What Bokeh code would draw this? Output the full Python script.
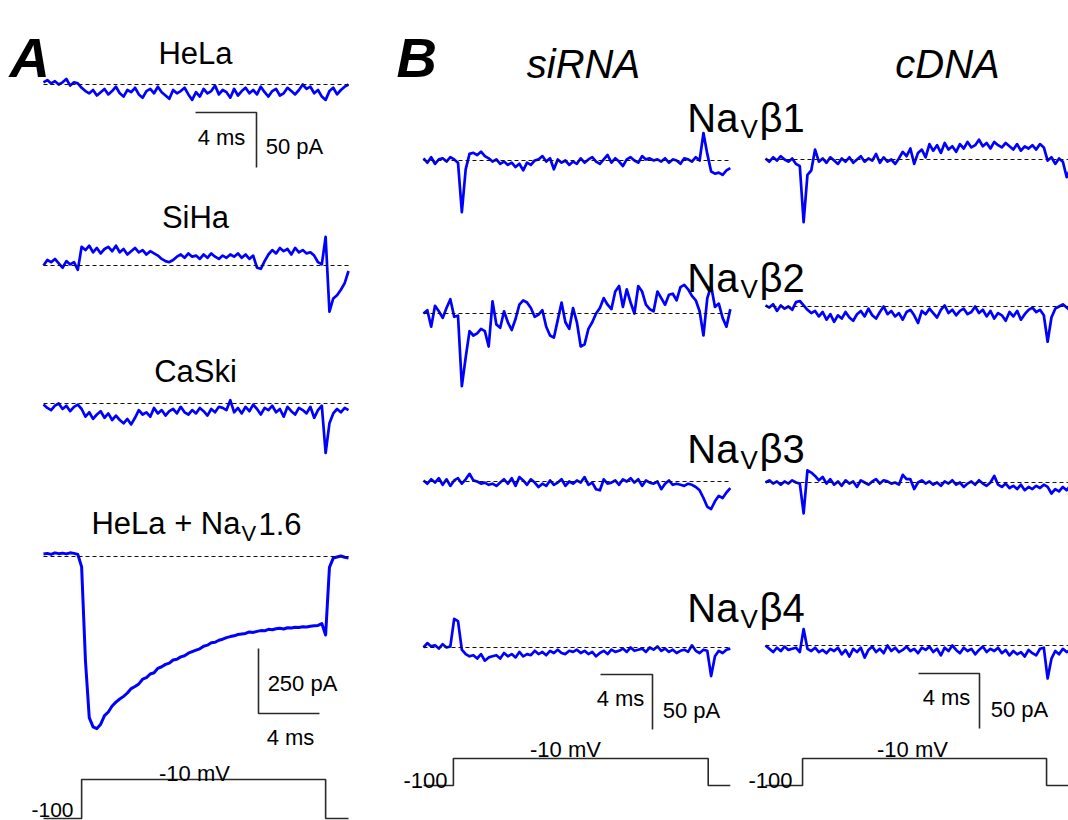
import numpy as np
from bokeh.plotting import figure
from bokeh.models import Range1d
from bokeh.core.properties import value
from bokeh.embed import file_html
from bokeh.resources import INLINE

# ---------------- data: currents in pA, sampled uniformly over each sweep ----------------
hela = [2, 4, 1, 3, 0, 2, 5, -1, 2, 1,
        -3, -6, -8, -5, -10, -7, -4, -9, -6, -2,
        -8, -11, -5, -7, -3, -9, -12, -6, -4, -8,
        -2, -7, -10, -13, -5, -8, -6, -3, -9, -14,
        -7, -11, -4, -8, -6, -1, -9, -5, -7, -12,
        -4, -10, -6, -3, -8, -5, -9, -2, -7, -11,
        -6, -4, -10, -8, -3, -6, -9, -5, 0, -4,
        -2, -8, -5, -11, -14, -6, -3, -9, -5, -2,
        0]
siha = [0, 5, 3, 6, 2, -2, 4, 1, 3, -4,
        17, 14, 18, 12, 16, 11, 15, 17, 13, 18,
        12, 15, 10, 13, 16, 12, 14, 10, 13, 11,
        9, 6, 4, 3, 5, 8, 10, 7, 11, 8,
        9, 6, 10, 7, 11, 8, 6, 9, 7, 10,
        8, 11, 7, 10, 6, 9, -2, -3, 4, 10,
        14, 11, 16, 13, 15, 10, 16, 12, 14, 11,
        12, 9, 3, 1, 26, -42, -30, -27, -22, -16,
        -5]
caski = [-1, -4, -6, -2, 0, -5, -2, -7, -3, -1,
         -5, -12, -8, -14, -10, -7, -13, -9, -15, -11,
         -15, -18, -14, -19, -13, -6, -10, -8, -12, -4,
         -9, -6, -11, -7, -5, -9, -3, -8, -10, -6,
         -9, -4, -7, -11, -5, -8, -3, -4, -6, 3,
         -8, -4, -9, -3, -7, -1, -5, -10, -4, -6,
         -2, -8, -5, -12, -3, -7, -10, -4, -6, -9,
         -3, -13, -6, -2, -45, -18, -9, -5, -8, -4,
         -6]
hela_nav16 = [10, 12, 8, 14, 11, 13, 10, 14, 12, 8,
              -40, -400, -620, -655, -662, -645, -612, -598, -575, -560,
              -548, -538, -525, -508, -500, -490, -472, -466, -452, -447,
              -430, -424, -415, -410, -398, -395, -386, -382, -372, -366,
              -360, -355, -345, -341, -332, -330, -322, -318, -312, -308,
              -305, -300, -298, -296, -290, -292, -288, -285, -286, -280,
              -282, -278, -276, -279, -274, -275, -272, -273, -270, -271,
              -268, -266, -265, -258, -302, -42, -6, -2, 2, -3,
              -6]
sirna_b1 = [2, -2, 3, -3, 1, 2, -1, 3, 1, -2,
            -47, -8, 6, 7, 5, 8, 4, 2, -1, 1,
            -3, -1, -4, -2, -6, -3, -9, -2, -4, 0,
            1, 4, -1, 2, -8, 1, -2, 0, -4, -1,
            -3, 2, -2, 1, 3, -1, -3, 1, 5, -2,
            2, -1, -5, 1, 3, 0, -2, 4, 1, 2,
            0, 1, -1, 2, -2, 1, 0, -3, 2, 1,
            -1, 3, 0, 25, 6, -10, -12, -11, -13, -9,
            -7]
cdna_b1 = [1, -2, 2, -1, 3, 0, -2, 1, -4, -6,
           -57, -14, -10, 9, -2, 1, -3, 2, -1, -4,
           1, -2, 2, -3, 0, 3, -2, 1, -1, 5,
           -3, 2, -2, 0, -4, 1, 7, 3, 10, -4,
           6, 9, 2, 14, 8, 13, 6, 15, 9, 12,
           7, 14, 10, 16, 11, 13, 18, 12, 15, 10,
           16, 13, 11, 15, 12, 9, 14, 8, 12, 10,
           13, 9, 14, 11, -1, 2, -4, 1, -2, -16,
           -8]
sirna_b2 = [0, 3, -12, 7, 2, -4, 5, 13, -3, -2,
            -66, -40, -16, -20, -18, -14, -16, -30, 11, -10,
            -13, 2, -8, -15, -5, 8, 12, 10, 5, -3,
            -1, 3, -12, -20, -22, -6, 10, -8, -14, 5,
            -8, -30, -28, -14, -8, 0, 5, 14, 8, 4,
            20, 25, 6, 22, 10, 0, 25, 20, 8, 4,
            2, 20, 14, 8, 17, 18, 12, 24, 26, 22,
            16, 12, 2, -20, 14, 25, 6, 9, -4, -12,
            4]
cdna_b2 = [1, -1, 2, -4, 1, -2, 0, -3, 4, 5,
           1, -3, -6, -4, -9, -5, -12, -7, -14, -8,
           -11, -5, -10, -13, -7, -4, -9, -2, -8, -11,
           -5, 0, -7, -4, -9, -6, -12, -5, -3, -8,
           -15, -4, -7, -2, -6, -10, -3, 1, -6, -3,
           -8, -4, -2, -7, -5, 0, -6, -3, -9, -4,
           -11, -6, -8, -13, -5, -9, -4, -12, -7, -3,
           -1, -5, -3, -8, -32, -10, -2, 0, 2, -1,
           -4]
sirna_b3 = [1, -2, 2, -1, 3, -3, 2, -4, 1, 3,
            -2, 2, 7, 1, 0, -2, -1, -3, -2, -4,
            -1, 2, -2, 3, -4, 4, 1, -3, 2, -1,
            -5, -2, -4, 1, -3, -1, 2, -4, 0, -2,
            1, -1, 4, -3, -1, -7, -8, 2, -2, -1,
            1, -3, 2, 0, 3, -1, 2, -4, 1, -1,
            -2, 0, -7, -2, 1, -3, -2, -3, -4, -2,
            -3, -5, -8, -15, -23, -25, -18, -13, -15, -10,
            -6]
cdna_b3 = [0, 2, -1, 1, -2, 1, -1, 2, 0, -1,
           -28, 11, 9, 6, 2, 5, -1, 3, -2, 1,
           -3, 2, -1, 1, -4, 2, 0, -2, 1, 3,
           -1, 2, 1, -1, 0, -2, 7, 3, 3, -6,
           0, 2, -1, 1, -2, 0, -3, 1, -1, 2,
           -2, 0, -4, -1, 1, -2, 2, -1, -3, 0,
           6, -2, -4, -1, -5, -3, -6, -2, -7, -4,
           -6, -3, -5, -2, -4, -10, -6, -8, -4, -7,
           -3]
sirna_b4 = [0, 4, 1, 2, -1, 3, 0, 1, 26, 24,
            -2, -6, -8, -7, -10, -6, -12, -9, -8, -7,
            -10, -5, -8, -6, -9, -4, -8, -6, -7, -3,
            -6, -4, -7, -3, -5, -2, -5, -6, -3, -4,
            -2, -5, -3, -6, -4, -8, -5, -3, -6, -2,
            -4, -3, -1, -4, 0, -3, -2, -1, -4, 0,
            -2, 1, -3, -1, -4, -2, -5, -3, -2, -4,
            2, -3, -5, -2, -3, -26, -8, -3, -5, -2,
            -1]
cdna_b4 = [0, -3, -6, -2, -5, -1, -4, -3, -2, -6,
           15, -3, -5, -2, -6, -4, -7, -3, -5, -2,
           -8, -4, -10, -3, -6, -2, -11, -4, -1, -6,
           -3, -7, 0, -5, -2, -6, -4, -1, -5, -3,
           -7, -2, -4, -1, -6, -3, -9, -2, -5, 0,
           -4, -7, -2, -5, -3, -8, -4, -1, -6, -3,
           -5, -2, -7, -4, -9, -5, -8, -6, -10, -4,
           -7, -9, -3, -2, -30, -12, -5, -8, -3, -6,
           -4]

a_titles = ["HeLa", "SiHa", "CaSki"]
b_subunits = ["1", "2", "3", "4"]
column_titles = ["siRNA", "cDNA"]
v_hold = -100      # mV
v_test = -10       # mV
bar_time = 4       # ms
bar_small = 50     # pA
bar_large = 250    # pA
sweep_a, step_a = 20.0, (2.5, 18.5)        # ms
sweep_si, step_si = 23.6, (2.3, 21.9)
sweep_c, step_c = 20.0, (2.43, 18.43)

# ---------------- layout (canvas units = page pixels) ----------------
BLUE = "#0000ff"
INK = "#2a2a2a"
FONT = value("Liberation Sans")

p = figure(width=1068, height=820, x_range=Range1d(0, 1068), y_range=Range1d(820, 0),
           output_backend="svg", toolbar_location=None,
           x_axis_location=None, y_axis_location=None, min_border=0)
p.grid.visible = False
p.outline_line_color = None
p.background_fill_color = "white"


def trace(vals, x0, ppm, dur, y0, gain, lw=2.7):
    v = np.asarray(vals, dtype=float)
    t = np.linspace(0.0, dur, len(v))
    p.line(x0 + t * ppm, y0 - v * gain, line_color=BLUE, line_width=lw, line_join="round")
    p.line([x0, x0 + dur * ppm], [y0, y0], line_color="#111111", line_width=1.1,
           line_dash="4 3")


def protocol(x0, ppm, dur, step, y_hold, gain):
    t = np.array([0, step[0], step[0], step[1], step[1], dur])
    v = np.array([v_hold, v_hold, v_test, v_test, v_hold, v_hold], dtype=float)
    p.line(x0 + t * ppm, y_hold - (v - v_hold) * gain, line_color=INK, line_width=1.6)


def label(x, y, txt, size, align="center", style="normal", color="black"):
    p.text(x=[x], y=[y], text=[txt], text_font=FONT, text_font_size=f"{size}px",
           text_align=align, text_baseline="alphabetic", text_font_style=style,
           text_color=color)


def bar(xs, ys):
    p.line(xs, ys, line_color=INK, line_width=1.6)


# ---- Panel A ----
A_X0, A_PPM = 43, 15.25
a_base = [84, 265, 403, 556]
a_gain = [1.1, 1.1, 1.1, 0.26]
for vals, y0, g in zip([hela, siha, caski, hela_nav16], a_base, a_gain):
    trace(vals, A_X0, A_PPM, sweep_a, y0, g, lw=2.7 if g > 1 else 3.0)

label(9, 57, "A", 56, align="left", style="bold italic")
for txt, yb in zip(a_titles, [53, 217, 371]):
    label(195, yb, txt, 31)
label(240, 523, "HeLa + Na", 31, align="right")
label(241, 533, "V", 22, align="left")
label(258, 523, "1.6", 31, align="left")

# scale bars A
bx, by = 256, 112
bar([bx - bar_time * A_PPM, bx, bx], [by, by, by + bar_small * 1.1])
label(221, 137, "4 ms", 22)
label(294, 146, "50 pA", 22)
bx, by = 258, 713
bar([bx, bx, bx + bar_time * A_PPM], [by - bar_large * 0.26, by, by])
label(302, 683, "250 pA", 22)
label(290, 737, "4 ms", 22)

protocol(A_X0, A_PPM, sweep_a, step_a, 818, 39 / 90)
label(194, 773, "-10 mV", 22)
label(52, 809, "-100", 21)

# ---- Panel B ----
label(396, 57, "B", 56, align="left", style="bold italic")
label(583, 63, column_titles[0], 40, style="italic")
label(947, 63, column_titles[1], 40, style="italic")

SI_X0, SI_PPM = 423, 13.0
C_X0, C_PPM = 765, 15.25
si_base = [160, 313, 481, 647]
c_base = [159, 306, 482, 645]
for vals, y0 in zip([sirna_b1, sirna_b2, sirna_b3, sirna_b4], si_base):
    trace(vals, SI_X0, SI_PPM, sweep_si, y0, 1.1)
for vals, y0 in zip([cdna_b1, cdna_b2, cdna_b3, cdna_b4], c_base):
    trace(vals, C_X0, C_PPM, sweep_c, y0, 1.1)

for sub, yb in zip(b_subunits, [117, 277, 448, 607]):
    label(738, yb, "Na", 40, align="right")
    label(740, yb + 11, "V", 26, align="left")
    label(759, yb, "\u03b2" + sub, 40, align="left")

# scale bars B
bx, by = 652, 674
bar([bx - bar_time * SI_PPM, bx, bx], [by, by, by + bar_small * 1.1])
label(620, 698, "4 ms", 22)
label(691, 710, "50 pA", 22)
bx, by = 979, 673
bar([bx - bar_time * C_PPM, bx, bx], [by, by, by + bar_small * 1.1])
label(946, 697, "4 ms", 22)
label(1019, 709, "50 pA", 22)

protocol(SI_X0, SI_PPM, sweep_si, step_si, 785, 0.3)
protocol(C_X0, C_PPM, sweep_c, step_c, 785, 0.3)
label(565, 749, "-10 mV", 22)
label(912, 749, "-10 mV", 22)
label(425, 780, "-100", 22)
label(770, 780, "-100", 22)

open("out.html", "w").write(file_html(p, INLINE))
